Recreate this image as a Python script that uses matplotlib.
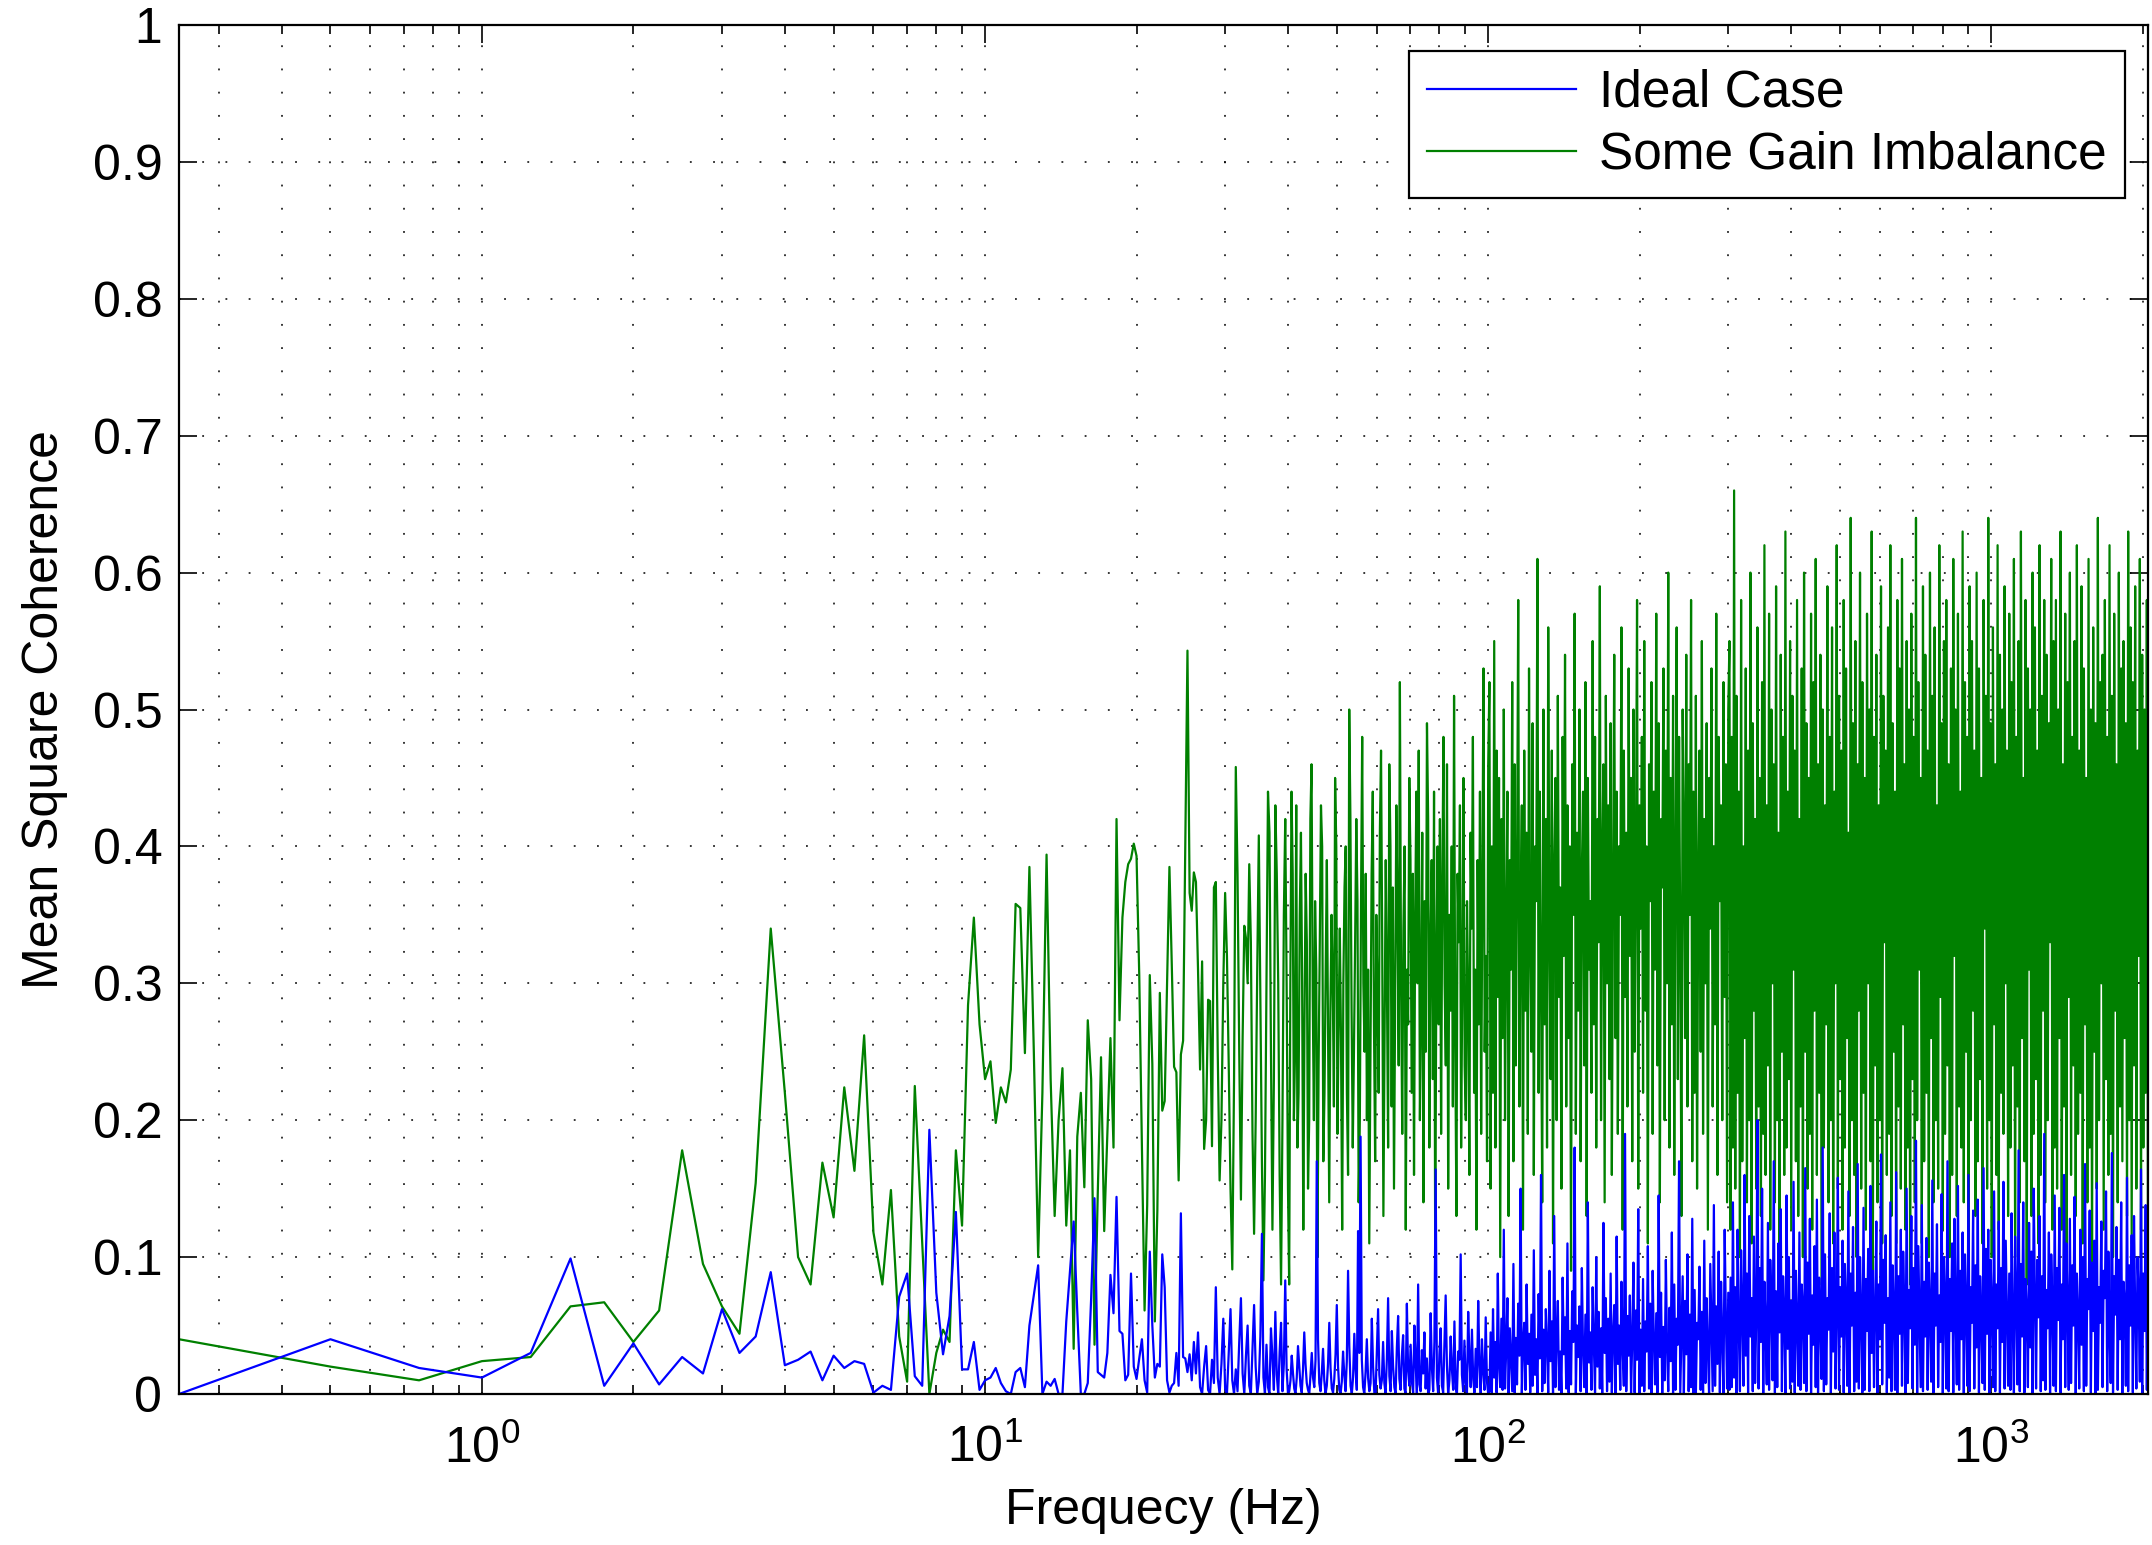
import numpy as np
import matplotlib.pyplot as plt
from matplotlib.ticker import LogLocator, FuncFormatter, NullFormatter

plt.rcParams['font.family'] = ['Liberation Sans', 'DejaVu Sans']
plt.rcParams['mathtext.default'] = 'regular'

# 0.25 Hz bins from 0.25 to 40 Hz, coherence x 1000
ideal_lo = [0, 40, 19, 12, 30, 99, 6, 37,
            7, 27, 15, 62, 30, 42, 89, 21,
            25, 31, 10, 28, 19, 24, 22, 1,
            6, 3, 71, 88, 13, 6, 193, 74,
            29, 57, 133, 18, 18, 38, 3, 10,
            12, 19, 8, 2, 0, 16, 19, 5,
            50, 72, 94, 0, 9, 6, 11, 0,
            0, 53, 90, 126, 60, 0, 0, 8,
            70, 143, 16, 14, 12, 30, 87, 59,
            144, 46, 44, 10, 14, 88, 20, 11,
            26, 40, 10, 1, 104, 50, 12, 22,
            20, 102, 78, 10, 1, 6, 8, 30,
            6, 132, 27, 26, 16, 29, 10, 38,
            15, 45, 5, 0, 20, 35, 3, 0,
            25, 8, 78, 12, 0, 22, 55, 4,
            0, 30, 62, 10, 0, 18, 2, 38,
            70, 15, 0, 28, 50, 6, 0, 33,
            65, 20, 0, 9, 42, 117, 12, 0,
            36, 5, 0, 48, 27, 3, 60, 14,
            0, 31, 52, 2, 22, 83, 18, 0]

gain_lo = [40, 20, 10, 24, 27, 64, 67, 38,
           61, 178, 95, 64, 44, 154, 340, 220,
           100, 80, 169, 129, 224, 163, 262, 118,
           80, 149, 42, 9, 225, 110, 0, 30,
           47, 38, 178, 123, 284, 348, 270, 230,
           243, 198, 224, 213, 237, 358, 355, 249,
           385, 250, 100, 220, 394, 230, 130, 200,
           238, 123, 178, 33, 188, 220, 151, 273,
           230, 36, 147, 246, 119, 190, 260, 180,
           420, 273, 348, 374, 387, 391, 402, 393,
           306, 180, 61, 138, 306, 241, 53, 134,
           293, 207, 214, 301, 385, 314, 239, 235,
           156, 248, 258, 400, 543, 366, 353, 381,
           374, 310, 237, 316, 179, 200, 288, 287,
           181, 370, 374, 250, 156, 200, 300, 366,
           320, 240, 150, 91, 230, 458, 380, 250,
           142, 260, 342, 333, 300, 387, 330, 192,
           117, 200, 310, 408, 290, 170, 83, 160,
           300, 440, 410, 250, 120, 230, 430, 380,
           300, 160, 80, 200, 350, 420, 300, 150]

# 40-100 Hz, x 1000
ideal_mid = [2, 10, 28, 15, 4, 0, 12, 35, 20, 6, 1, 18, 45, 22, 8, 3, 0, 14, 30, 12,
             5, 25, 170, 40, 8, 2, 15, 33, 10, 0, 6, 22, 52, 19, 4, 1, 11, 29, 65, 20,
             3, 0, 9, 31, 14, 2, 24, 90, 35, 6, 0, 12, 44, 18, 3, 119, 30, 188, 25, 5,
             0, 16, 40, 12, 2, 8, 55, 20, 1, 0, 30, 62, 14, 4, 10, 38, 8, 0, 25, 70,
             13, 2, 46, 20, 5, 0, 34, 57, 11, 3, 28, 43, 4, 0, 66, 17, 6, 36, 9, 1,
             50, 23, 0, 80, 7, 2, 32, 15, 45, 4, 26, 0, 3, 59, 19, 2, 38, 164, 12, 0,
             29, 48, 6, 1, 35, 72, 21, 0, 10, 42, 18, 3, 53, 4, 0, 31, 25, 102, 14, 2,
             39, 8, 0, 60, 27, 5, 47, 11, 1, 33, 5, 68, 22, 0, 40, 16, 3, 56, 9, 0]
# 100-300 Hz, x 1000
ideal_hi = [2, 45, 0, 62, 12, 38, 1, 88, 20, 5, 55, 3, 120, 4, 33, 70, 0, 48, 25, 2,
            95, 1, 41, 7, 66, 28, 150, 0, 36, 52, 3, 80, 22, 44, 1, 58, 6, 105, 14, 40,
            0, 73, 26, 160, 2, 47, 8, 62, 35, 1, 90, 24, 53, 0, 130, 5, 42, 68, 3, 31,
            0, 85, 29, 56, 4, 110, 1, 46, 7, 75, 38, 180, 0, 50, 27, 64, 2, 92, 32, 5,
            58, 0, 140, 23, 45, 3, 78, 36, 1, 100, 20, 60, 4, 48, 0, 125, 30, 70, 2, 55,
            9, 88, 1, 43, 65, 0, 115, 22, 50, 3, 82, 34, 6, 190, 2, 57, 28, 72, 0, 40,
            96, 1, 61, 25, 135, 0, 47, 6, 84, 2, 53, 31, 108, 4, 66, 0, 90, 38, 7, 59,
            1, 145, 27, 74, 0, 49, 10, 98, 33, 2, 63, 24, 118, 0, 80, 3, 55, 36, 170, 1,
            44, 86, 0, 68, 29, 102, 2, 58, 5, 128, 1, 76, 0, 52, 40, 93, 3, 60, 0, 112,
            8, 70, 32, 0, 95, 48, 2, 138, 6, 64, 22, 104, 1, 82, 39, 0, 120, 56, 4, 74]
# 300-2048 Hz, x 1000
ideal_top = [3, 85, 5, 140, 12, 78, 0, 120, 48, 2, 105, 60, 6, 160, 28, 88, 1, 130, 42, 70,
             2, 115, 8, 55, 200, 4, 92, 38, 150, 0, 82, 50, 7, 125, 3, 98, 65, 10, 170, 1,
             75, 5, 110, 45, 135, 2, 86, 58, 0, 145, 33, 100, 4, 68, 9, 155, 1, 90, 52, 6,
             118, 3, 80, 62, 8, 165, 2, 96, 44, 128, 0, 72, 36, 108, 5, 142, 1, 85, 54, 11,
             180, 2, 102, 7, 70, 47, 132, 0, 92, 31, 118, 4, 60, 158, 3, 78, 42, 112, 1, 95,
             66, 6, 148, 0, 88, 50, 122, 2, 74, 9, 168, 4, 100, 56, 1, 136, 3, 84, 46, 106,
             2, 152, 30, 90, 5, 62, 126, 0, 80, 40, 175, 7, 98, 52, 116, 1, 70, 12, 140, 2,
             94, 58, 3, 162, 0, 86, 44, 120, 6, 104, 64, 1, 150, 8, 76, 48, 130, 4, 92, 36,
             185, 0, 108, 55, 5, 138, 2, 82, 42, 114, 3, 96, 60, 9, 156, 1, 88, 50, 124, 5,
             72, 38, 146, 0, 100, 66, 4, 170, 2, 84, 46, 110, 1, 128, 58, 7, 152, 3, 90, 40,
             118, 0, 102, 62, 6, 160, 2, 78, 52, 134, 4, 94, 34, 142, 1, 86, 56, 8, 165, 3,
             106, 44, 120, 0, 98, 64, 5, 148, 2, 80, 48, 126, 1, 92, 38, 155, 4, 112, 58, 6,
             88, 3, 132, 50, 0, 115, 68, 7, 178, 2, 95, 42, 140, 1, 84, 60, 5, 125, 34, 104,
             0, 150, 72, 4, 98, 56, 130, 2, 86, 10, 190, 3, 76, 48, 118, 0, 102, 64, 6, 145,
             2, 92, 54, 136, 1, 80, 40, 160, 5, 110, 66, 3, 128, 8, 94, 50, 144, 0, 88, 58,
             4, 120, 36, 100, 2, 168, 6, 84, 62, 134, 1, 96, 46, 112, 0, 154, 3, 78, 52, 126,
             5, 90, 70, 148, 2, 104, 44, 8, 176, 1, 86, 58, 122, 3, 98, 40, 140, 0, 82, 66,
             6, 158, 2, 94, 50, 116, 1, 130, 60, 4, 100, 72, 9, 164, 0, 88, 46, 138, 3, 108]

# gain imbalance upper bands, x 100
gain_mid = [8, 30, 44, 38, 20, 25, 43, 18, 22, 35, 41, 30, 12, 27, 38, 33, 15, 20, 42, 46,
            29, 20, 36, 31, 10, 24, 33, 43, 40, 17, 22, 31, 39, 26, 14, 28, 35, 30, 21, 45,
            40, 19, 27, 34, 26, 12, 30, 37, 40, 22, 16, 50, 42, 28, 18, 25, 33, 42, 36, 14,
            20, 36, 48, 30, 25, 38, 20, 31, 11, 24, 38, 44, 27, 17, 35, 29, 22, 41, 47, 33,
            13, 26, 39, 30, 18, 46, 40, 21, 37, 15, 29, 43, 35, 24, 52, 30, 19, 34, 40, 12,
            31, 27, 45, 39, 22, 38, 16, 35, 44, 30, 47, 20, 28, 41, 14, 36, 25, 49, 42, 18,
            33, 39, 23, 44, 10, 32, 40, 27, 42, 19, 37, 48, 30, 24, 46, 15, 35, 28, 40, 21,
            51, 26, 13, 38, 33, 43, 18, 30, 45, 24, 20, 36, 29, 16, 41, 34, 48, 22, 31, 12,
            39, 27, 44, 19, 37, 53, 25, 32, 17, 46]
gain_hi = [52, 15, 40, 22, 55, 18, 47, 29, 45, 10, 42, 26, 50, 20, 34, 44, 13, 39, 31, 52,
           17, 46, 24, 38, 58, 21, 35, 43, 12, 47, 28, 41, 19, 53, 33, 25, 49, 16, 40, 36,
           61, 22, 44, 30, 14, 50, 27, 42, 18, 56, 34, 23, 47, 11, 39, 45, 20, 51, 29, 37,
           15, 48, 32, 54, 21, 43, 26, 40, 9, 46, 35, 57, 19, 41, 28, 50, 17, 38, 44, 24,
           52, 13, 45, 31, 36, 22, 55, 27, 48, 18, 42, 33, 59, 20, 39, 46, 14, 51, 30, 43,
           23, 49, 16, 37, 54, 26, 44, 19, 40, 35, 56, 12, 47, 29, 41, 21, 53, 32, 45, 17,
           50, 25, 38, 58, 15, 43, 34, 48, 22, 55, 28, 40, 11, 46, 36, 52, 19, 44, 31, 57,
           24, 49, 14, 42, 37, 53, 20, 47, 30, 60, 18, 45, 27, 51, 16, 39, 56, 23, 48, 33,
           13, 50, 41, 26, 54, 21, 46, 35, 58, 17, 44, 22, 51, 15, 38, 47, 25, 55, 19, 42,
           30, 49, 12, 45, 34, 53, 21, 40, 27, 57, 16, 48, 36, 43, 20, 52, 29, 46, 14, 50]
gain_top = [55, 12, 48, 18, 66, 15, 51, 22, 44, 10, 58, 17, 40, 26, 53, 14, 47, 20, 60, 11,
            49, 28, 42, 15, 56, 21, 45, 13, 52, 19, 62, 16, 43, 24, 57, 12, 50, 30, 46, 14,
            59, 20, 41, 9, 54, 25, 48, 16, 63, 18, 44, 23, 55, 12, 51, 31, 47, 17, 58, 13,
            42, 21, 53, 10, 60, 25, 49, 15, 45, 19, 57, 12, 52, 28, 61, 16, 46, 22, 54, 8,
            50, 18, 43, 27, 59, 14, 48, 20, 56, 11, 44, 30, 62, 15, 51, 23, 47, 12, 58, 18,
            53, 26, 41, 13, 64, 20, 49, 16, 55, 10, 46, 28, 60, 15, 52, 22, 45, 12, 57, 30,
            50, 17, 63, 9, 48, 24, 54, 14, 43, 20, 59, 11, 51, 33, 47, 16, 56, 19, 62, 13,
            49, 25, 44, 11, 58, 21, 53, 15, 61, 27, 46, 12, 55, 18, 50, 8, 57, 23, 48, 14,
            64, 20, 52, 31, 45, 11, 59, 17, 54, 22, 47, 10, 60, 26, 51, 14, 56, 20, 43, 15,
            62, 29, 49, 12, 55, 19, 58, 24, 46, 10, 53, 16, 61, 32, 50, 13, 57, 21, 44, 18,
            63, 14, 52, 25, 48, 9, 59, 20, 55, 28, 47, 13, 60, 17, 53, 23, 45, 11, 58, 34,
            51, 15, 64, 20, 49, 10, 56, 27, 46, 16, 62, 12, 54, 22, 50, 19, 59, 30, 47, 13,
            57, 18, 52, 24, 61, 10, 48, 21, 55, 14, 63, 26, 45, 17, 58, 8, 53, 31, 50, 13,
            60, 19, 56, 23, 47, 11, 62, 16, 51, 28, 58, 14, 54, 20, 49, 33, 61, 12, 55, 18,
            58, 15, 50, 26, 63, 12, 46, 21, 57, 10, 52, 29, 60, 16, 48, 24, 55, 13, 62, 19,
            47, 22, 59, 11, 53, 27, 45, 14, 61, 18, 50, 9, 56, 25, 49, 15, 64, 20, 52, 30,
            54, 12, 58, 23, 48, 16, 62, 19, 51, 10, 57, 28, 46, 14, 60, 21, 53, 17, 55, 26,
            49, 13, 63, 20, 56, 11, 52, 24, 59, 15, 47, 32, 61, 12, 54, 18, 50, 22, 58, 10]

yticks = [0, 0.1, 0.2, 0.3, 0.4, 0.5, 0.6, 0.7, 0.8, 0.9, 1]


def band_freqs(lo_len, mid_len, hi_len, top_len):
    f_lo = np.arange(1, lo_len + 1) * 0.25
    f_mid = np.geomspace(40, 100, mid_len + 1)[1:]
    f_hi = np.geomspace(100, 300, hi_len + 1)[1:]
    f_top = np.geomspace(300, 2048, top_len + 1)[1:]
    return np.concatenate([f_lo, f_mid, f_hi, f_top])


f_ideal = band_freqs(len(ideal_lo), len(ideal_mid), len(ideal_hi), len(ideal_top))
c_ideal = np.concatenate([np.array(ideal_lo) / 1000, np.array(ideal_mid) / 1000,
                          np.array(ideal_hi) / 1000, np.array(ideal_top) / 1000])
f_gain = band_freqs(len(gain_lo), len(gain_mid), len(gain_hi), len(gain_top))
c_gain = np.concatenate([np.array(gain_lo) / 1000, np.array(gain_mid) / 100,
                         np.array(gain_hi) / 100, np.array(gain_top) / 100])

fig = plt.figure(figsize=(21.52, 15.45), dpi=100)
ax = fig.add_axes([179 / 2152, 1 - 1394 / 1545, (2148 - 179) / 2152, (1394 - 25) / 1545])

l_gain, = ax.semilogx(f_gain, c_gain, color=(0, 0.5, 0), lw=1.6, label='Some Gain Imbalance')
l_ideal, = ax.semilogx(f_ideal, c_ideal, color=(0, 0, 1), lw=1.6, label='Ideal Case')

ax.set_xlim(0.25, 2048)
ax.set_ylim(0, 1)
ax.set_yticks(yticks)
ax.yaxis.set_major_formatter(FuncFormatter(lambda v, p: '%g' % v))
ax.xaxis.set_major_locator(LogLocator(base=10))
ax.xaxis.set_minor_locator(LogLocator(base=10, subs=np.arange(2, 10)))
ax.xaxis.set_minor_formatter(NullFormatter())

dots = (0, (1.2, 14))
ax.grid(True, which='major', axis='both', color='k', lw=1.1, linestyle=dots)
ax.grid(True, which='minor', axis='x', color='k', lw=1.1, linestyle=dots)

for s in ax.spines.values():
    s.set_linewidth(1.6)
ax.tick_params(which='both', direction='in', top=True, right=True, labelsize=36, width=1.2)
ax.tick_params(which='major', length=13)
ax.tick_params(which='minor', length=6.5)
ax.tick_params(axis='y', pad=12)
ax.tick_params(axis='x', pad=22)

ax.set_xlabel('Frequecy (Hz)', fontsize=36, labelpad=11)
ax.set_ylabel('Mean Square Coherence', fontsize=36, labelpad=18)

leg = ax.legend([l_ideal, l_gain], ['Ideal Case', 'Some Gain Imbalance'], loc='upper right',
                bbox_to_anchor=(0.9883, 0.981), borderaxespad=0, fontsize=37, fancybox=False,
                framealpha=1, edgecolor='k', handlelength=2.9, handletextpad=0.45,
                labelspacing=0.25, borderpad=0.35)
leg.get_frame().set_linewidth(1.6)

fig.savefig('out.png', dpi=100)
